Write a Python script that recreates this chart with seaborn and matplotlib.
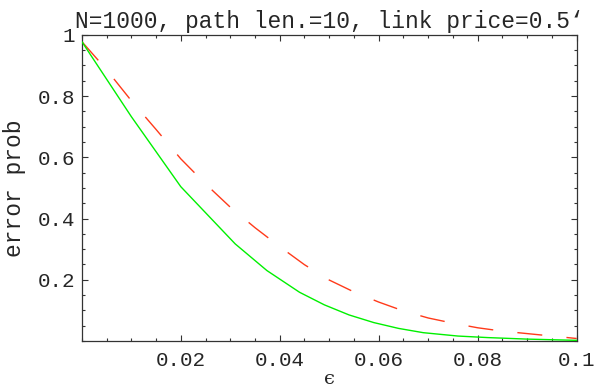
import matplotlib
matplotlib.use("Agg")
import matplotlib.pyplot as plt
import seaborn as sns
import pandas as pd
from matplotlib.ticker import FixedLocator, FixedFormatter, MultipleLocator

# ---- data ----
eps_green = [0.0, 0.01, 0.02, 0.031, 0.0374, 0.044, 0.049, 0.054, 0.059, 0.064, 0.069, 0.076, 0.082, 0.09, 0.1]
err_green = [0.978, 0.733, 0.504, 0.317, 0.230, 0.159, 0.118, 0.085, 0.060, 0.041, 0.027, 0.016, 0.011, 0.006, 0.002]

eps_red = [0.0, 0.005, 0.01, 0.015, 0.02, 0.025, 0.03, 0.035, 0.04, 0.045, 0.05,
           0.055, 0.06, 0.065, 0.07, 0.075, 0.08, 0.085, 0.09, 0.095, 0.1]
err_red = [0.978, 0.886, 0.785, 0.691, 0.595, 0.513, 0.437, 0.370, 0.308, 0.249, 0.199,
           0.160, 0.127, 0.098, 0.075, 0.058, 0.043, 0.032, 0.024, 0.016, 0.008]

x_ticks = [0.02, 0.04, 0.06, 0.08, 0.1]
x_tick_labels = ["0.02", "0.04", "0.06", "0.08", "0.1"]
y_ticks = [0.2, 0.4, 0.6, 0.8, 1.0]
y_tick_labels = ["0.2", "0.4", "0.6", "0.8", "1"]

title = "N=1000, path len.=10, link price=0.5\u2018"
xlabel = "\u03f5"
ylabel = "error prob"

# ---- style ----
sns.set_style("ticks")
plt.rcParams["font.family"] = ["Liberation Mono", "DejaVu Sans"]
frame_col = "#333333"

fig = plt.figure(figsize=(5.97, 3.87), dpi=100)
ax = fig.add_axes([0.137, 0.119, 0.829, 0.791])

df_g = pd.DataFrame({"eps": eps_green, "err": err_green})
df_r = pd.DataFrame({"eps": eps_red, "err": err_red})

sns.lineplot(data=df_g, x="eps", y="err", ax=ax, color="#00f000", lw=1.0, zorder=3)
sns.lineplot(data=df_r, x="eps", y="err", ax=ax, color="#ff3a1a", lw=1.0,
             dashes=False, zorder=2)
ax.lines[-1].set_dashes((18, 17.5))

ax.set_xlim(0, 0.1)
ax.set_ylim(0, 1)

ax.xaxis.set_major_locator(FixedLocator(x_ticks))
ax.xaxis.set_major_formatter(FixedFormatter(x_tick_labels))
ax.yaxis.set_major_locator(FixedLocator(y_ticks))
ax.yaxis.set_major_formatter(FixedFormatter(y_tick_labels))
ax.xaxis.set_minor_locator(MultipleLocator(0.005))
ax.yaxis.set_minor_locator(MultipleLocator(0.05))

ax.tick_params(which="both", direction="in", top=True, right=True,
               color=frame_col, width=0.8)
ax.tick_params(which="major", length=4.5, labelsize=15, pad=5)
ax.tick_params(which="minor", length=2.3)
ax.tick_params(axis="x", which="major", pad=7)
for s in ax.spines.values():
    s.set_color(frame_col)
    s.set_linewidth(0.9)

ax.set_title(title, fontsize=16.5, pad=5)
ax.set_xlabel(xlabel, fontsize=14, family=["DejaVu Serif"], labelpad=0)
ax.set_ylabel(ylabel, fontsize=16.5, labelpad=8)

fig.savefig("out.png", dpi=100)
